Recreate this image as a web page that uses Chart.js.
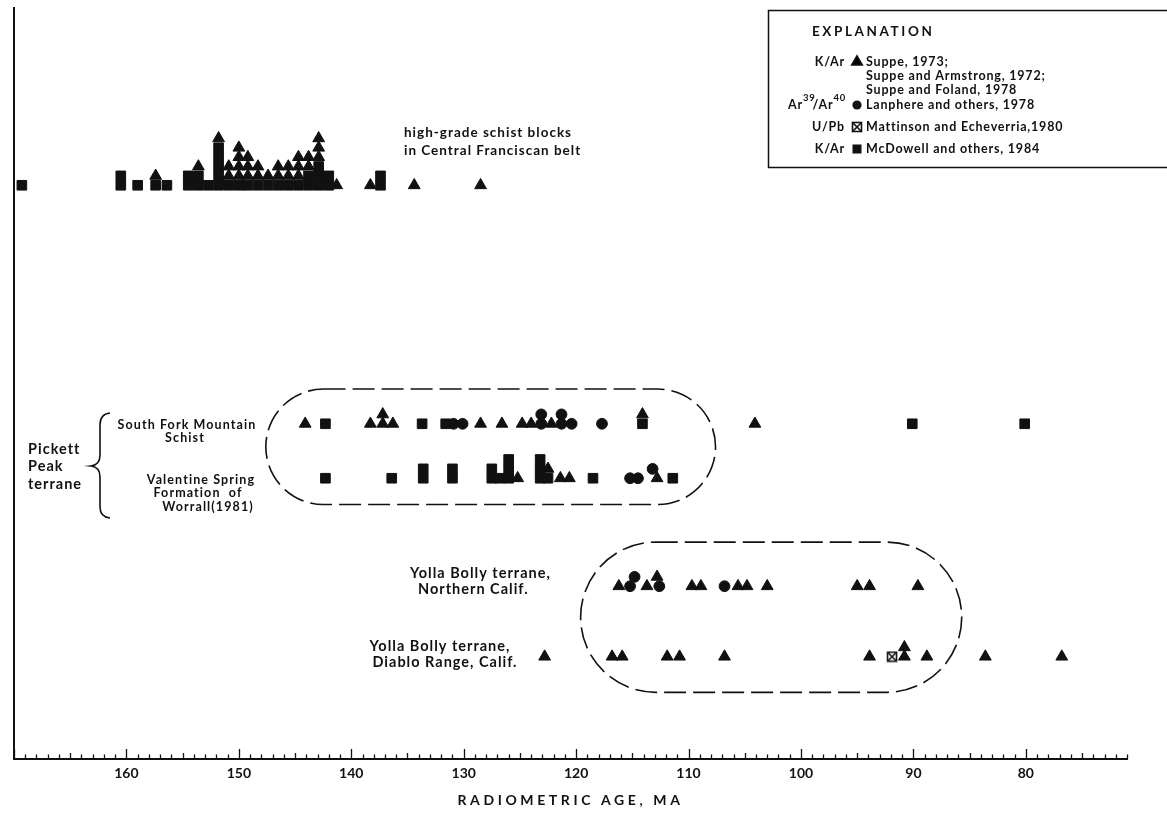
<!DOCTYPE html>
<html><head><meta charset="utf-8">
<script src="https://cdn.jsdelivr.net/npm/chart.js@4.4.0/dist/chart.umd.min.js"></script>
<style>html,body{margin:0;padding:0;background:#fff;}#wrap{width:1167px;height:817px;position:relative;}</style>
</head><body><div id="wrap"><canvas id="c"></canvas></div>
<script>
// ---------- data ----------
const ageMin = 71, ageMax = 170;               // radiometric age axis (Ma), reversed
const xTickLabels = [160, 150, 140, 130, 120, 110, 100, 90, 80];
const rowNames = ['high-grade schist blocks', 'South Fork Mountain Schist', 'Valentine Spring Formation', 'Yolla Bolly Northern Calif.', 'Yolla Bolly Diablo Range'];
const rowY = [61.1, 35.7, 29.9, 18.4, 10.9];     // row baseline on hidden y scale (stack units)

// each point: [age Ma, stack level]
const schistSquares = [[169.3,0],[160.5,0],[160.5,1],[159.0,0],[157.4,0],[156.4,0],
  [154.5,0],[153.6,0],[152.7,0],[151.8,0],[150.9,0],[150.0,0],[149.2,0],[148.3,0],[147.4,0],[146.5,0],[145.6,0],[144.7,0],[143.8,0],[142.9,0],[142.0,0],
  [154.5,1],[153.6,1],[151.8,1],[143.8,1],[142.9,1],[142.0,1],[151.8,2],[142.9,2],[151.8,3],[151.8,4],
  [137.4,0],[137.4,1]];
const schistTriangles = [[157.4,1],[153.6,2],[151.8,5],[150.9,1],[150.9,2],[150.0,1],[150.0,2],[150.0,3],[150.0,4],
  [149.2,1],[149.2,2],[149.2,3],[148.3,1],[148.3,2],[147.4,1],[146.5,1],[146.5,2],[145.6,1],[145.6,2],
  [144.7,1],[144.7,2],[144.7,3],[143.8,2],[143.8,3],[142.9,3],[142.9,4],[142.9,5],
  [141.3,0],[138.3,0],[134.4,0],[128.5,0]];

const sfmTriangles = [[144.1,0],[138.3,0],[137.2,0],[136.3,0],[137.2,1],[128.5,0],[126.6,0],[124.8,0],[124.0,0],[122.2,0],[114.1,1],[104.1,0]];
const sfmCircles = [[130.9,0],[130.1,0],[123.1,0],[121.3,0],[120.4,0],[123.1,1],[121.3,1],[117.7,0]];
const sfmSquares = [[142.3,0],[133.7,0],[131.6,0],[114.1,0],[90.1,0],[80.1,0]];

const vsSquares = [[142.3,0],[136.4,0],[133.6,0],[133.6,1],[131.0,0],[131.0,1],[127.5,0],[127.5,1],[126.8,0],
  [126.0,0],[126.0,1],[126.0,2],[123.2,0],[123.2,1],[123.2,2],[122.5,0],[118.5,0],[111.4,0]];
const vsTriangles = [[125.2,0],[122.5,1],[121.4,0],[120.6,0],[112.8,0]];
const vsCircles = [[115.2,0],[114.5,0],[113.2,1]];

const ybnTriangles = [[116.2,0],[113.7,0],[112.8,1],[109.7,0],[108.9,0],[105.6,0],[104.8,0],[103.0,0],[95.0,0],[93.9,0],[89.6,0]];
const ybnCircles = [[115.2,0],[112.6,0],[114.8,1],[106.8,0]];

const ybdTriangles = [[122.8,0],[116.8,0],[115.9,0],[111.9,0],[110.8,0],[106.8,0],[93.9,0],[90.8,0],[90.8,1],[88.8,0],[83.6,0],[76.8,0]];
const ybdCrossed = [[91.9,0]];

// dashed groupings: [oldest age, youngest age, top y, bottom y]
const groupOutlines = [[147.6, 107.6, 39.4, 27.1], [119.6, 85.7, 23.1, 7.1]];

// ---------- drawing ----------
const ink = '#111';
const FONT = 'Lato, "DejaVu Sans", sans-serif';
const sym = {
  tri: {pointStyle: 'triangle', radius: 6.8},
  cir: {pointStyle: 'circle', radius: 5.4},
  sq:  {pointStyle: 'rect', radius: 6.8}
};
const xsq = document.createElement('canvas'); xsq.width = 12; xsq.height = 12;
(function(){ const g = xsq.getContext('2d'); g.strokeStyle = ink; g.lineWidth = 1.6;
  g.strokeRect(1.5,1.5,9,9); g.beginPath(); g.moveTo(2,2); g.lineTo(10,10); g.moveTo(10,2); g.lineTo(2,10); g.stroke(); })();

function pts(arr, row) { return arr.map(([a, l]) => ({x: a, y: rowY[row] + l})); }
function ds(arr, row, s) {
  return {data: pts(arr, row), pointStyle: s.pointStyle, pointRadius: s.radius, pointBackgroundColor: ink,
    pointBorderColor: ink, pointBorderWidth: 1, showLine: false};
}
const datasets = [
  ds(schistSquares, 0, sym.sq), ds(schistTriangles, 0, sym.tri),
  ds(sfmSquares, 1, sym.sq), ds(sfmTriangles, 1, sym.tri), ds(sfmCircles, 1, sym.cir),
  ds(vsSquares, 2, sym.sq), ds(vsTriangles, 2, sym.tri), ds(vsCircles, 2, sym.cir),
  ds(ybnTriangles, 3, sym.tri), ds(ybnCircles, 3, sym.cir),
  ds(ybdTriangles, 4, sym.tri),
  {data: pts(ybdCrossed, 4), pointStyle: xsq, pointRadius: 6, showLine: false}
];

function txt(ctx, s, x, y, size, align, spacing) {
  ctx.save();
  ctx.font = 'bold ' + size + 'px ' + FONT;
  ctx.letterSpacing = (spacing == null ? 0.8 : spacing) + 'px';
  ctx.textAlign = align || 'left'; ctx.textBaseline = 'middle'; ctx.fillStyle = ink;
  ctx.fillText(s, x, y);
  ctx.restore();
}

const decor = {
  id: 'decor',
  beforeDatasetsDraw(chart) {
    const {ctx, scales: {x, y}} = chart;
    ctx.save();
    ctx.strokeStyle = ink; ctx.lineWidth = 1.6; ctx.setLineDash([22, 7]);
    groupOutlines.forEach(([a0, a1, v0, v1]) => {
      const x0 = x.getPixelForValue(a0), x1 = x.getPixelForValue(a1);
      const yT = y.getPixelForValue(v0), yB = y.getPixelForValue(v1);
      const r = (yB - yT) / 2;
      ctx.beginPath();
      ctx.moveTo(x0 + r, yT); ctx.lineTo(x1 - r, yT);
      ctx.arc(x1 - r, yT + r, r, -Math.PI / 2, Math.PI / 2);
      ctx.lineTo(x0 + r, yB);
      ctx.arc(x0 + r, yT + r, r, Math.PI / 2, 3 * Math.PI / 2);
      ctx.stroke();
    });
    ctx.restore();
  },
  afterDraw(chart) {
    const {ctx, chartArea, scales: {x}} = chart;
    ctx.save();
    ctx.strokeStyle = ink; ctx.lineWidth = 1.3; ctx.beginPath();
    for (let v = ageMin; v <= ageMax; v++) {
      const px = Math.round(x.getPixelForValue(v)) + 0.5;
      const len = v % 10 === 0 ? 10 : (v % 5 === 0 ? 6 : 4.5);
      ctx.moveTo(px, chartArea.bottom); ctx.lineTo(px, chartArea.bottom - len);
    }
    ctx.stroke();
    txt(ctx, 'RADIOMETRIC AGE, MA', (chartArea.left + chartArea.right) / 2, 800, 14, 'center', 3.6);

    txt(ctx, 'high-grade schist blocks', 404, 133, 13.5, 'left', 1);
    txt(ctx, 'in Central Franciscan belt', 404, 151, 13.5, 'left', 1);
    txt(ctx, 'South Fork Mountain', 187, 425, 12.5, 'center', 1.1);
    txt(ctx, 'Schist', 185, 438, 12.5, 'center', 1.1);
    txt(ctx, 'Valentine Spring', 201, 480, 12.5, 'center', 1.1);
    txt(ctx, 'Formation  of', 198, 493, 12.5, 'center', 1.1);
    txt(ctx, 'Worrall(1981)', 208, 507, 12.5, 'center', 1.1);
    txt(ctx, 'Pickett', 28, 449, 14.5, 'left', 1);
    txt(ctx, 'Peak', 28, 466, 14.5, 'left', 1);
    txt(ctx, 'terrane', 28, 484, 14.5, 'left', 1);
    txt(ctx, 'Yolla Bolly terrane,', 410, 573, 14.5, 'left', 1);
    txt(ctx, 'Northern Calif.', 418, 589, 14.5, 'left', 1);
    txt(ctx, 'Yolla Bolly terrane,', 440, 646, 14.5, 'center', 1);
    txt(ctx, 'Diablo Range, Calif.', 445, 662, 14.5, 'center', 1);

    ctx.lineWidth = 1.6; ctx.beginPath();
    ctx.moveTo(110, 413); ctx.quadraticCurveTo(100, 414, 100, 425);
    ctx.lineTo(100, 455); ctx.quadraticCurveTo(100, 465, 91, 466);
    ctx.quadraticCurveTo(100, 467, 100, 477);
    ctx.lineTo(100, 507); ctx.quadraticCurveTo(100, 517, 110, 518);
    ctx.stroke();

    ctx.lineWidth = 1.5; ctx.strokeRect(768.5, 10.5, 420, 157);
    txt(ctx, 'EXPLANATION', 812, 32, 13.5, 'left', 2.6);
    const symX = 857, tX = 866;
    txt(ctx, 'K/Ar', 845, 62, 12.5, 'right');
    Chart.helpers.drawPoint(ctx, {pointStyle: 'triangle', radius: 6.2, borderWidth: 1}, symX, 62);
    ctx.fillStyle = ink; ctx.strokeStyle = ink;
    txt(ctx, 'Suppe, 1973;', tX, 62, 12.5);
    txt(ctx, 'Suppe and Armstrong, 1972;', tX, 76, 12.5);
    txt(ctx, 'Suppe and Foland, 1978', tX, 90, 12.5);
    ctx.font = 'bold 12.5px ' + FONT; ctx.letterSpacing = '0.8px';
    const w1 = ctx.measureText('Ar').width, w3 = ctx.measureText('/Ar').width;
    ctx.font = 'bold 9.5px ' + FONT;
    const w2 = ctx.measureText('39').width, w4 = ctx.measureText('40').width;
    let ax = 849 - (w1 + w2 + w3 + w4);
    txt(ctx, 'Ar', ax, 105, 12.5); ax += w1;
    txt(ctx, '39', ax, 98, 9.5); ax += w2 - 3;
    txt(ctx, '/Ar', ax, 105, 12.5); ax += w3;
    txt(ctx, '40', ax, 98, 9.5);
    ctx.fillStyle = ink; ctx.beginPath(); ctx.arc(symX, 105, 4.6, 0, Math.PI * 2); ctx.fill();
    txt(ctx, 'Lanphere and others, 1978', tX, 105, 12.5);
    txt(ctx, 'U/Pb', 845, 127, 12.5, 'right');
    ctx.drawImage(xsq, symX - 6, 127 - 6);
    txt(ctx, 'Mattinson and Echeverria,1980', tX, 127, 12.5);
    txt(ctx, 'K/Ar', 845, 149, 12.5, 'right');
    ctx.fillStyle = ink; ctx.fillRect(symX - 4.5, 149 - 4.5, 9, 9);
    txt(ctx, 'McDowell and others, 1984', tX, 149, 12.5);
    ctx.restore();
  }
};

new Chart(document.getElementById('c'), {
  type: 'scatter',
  data: {datasets},
  options: {
    responsive: true, maintainAspectRatio: false, animation: false, events: [],
    layout: {padding: {left: 14, right: 40, top: 0, bottom: 0}},
    plugins: {legend: {display: false}, tooltip: {enabled: false}},
    scales: {
      x: {type: 'linear', reverse: true, min: ageMin, max: ageMax, position: 'bottom',
        afterBuildTicks: s => { s.ticks = xTickLabels.map(v => ({value: v})); },
        ticks: {autoSkip: false, maxRotation: 0, padding: 6, color: ink,
          font: {family: FONT, weight: 'bold', size: 14}},
        grid: {display: false, drawTicks: false},
        border: {display: true, color: ink, width: 2},
        afterFit: s => { s.height = 58; }},
      y: {type: 'linear', min: 0, max: 80, position: 'left',
        ticks: {display: false}, grid: {display: false, drawTicks: false},
        border: {display: true, color: ink, width: 2},
        afterFit: s => { s.width = 0; }}
    }
  },
  plugins: [decor]
});
</script></body></html>
